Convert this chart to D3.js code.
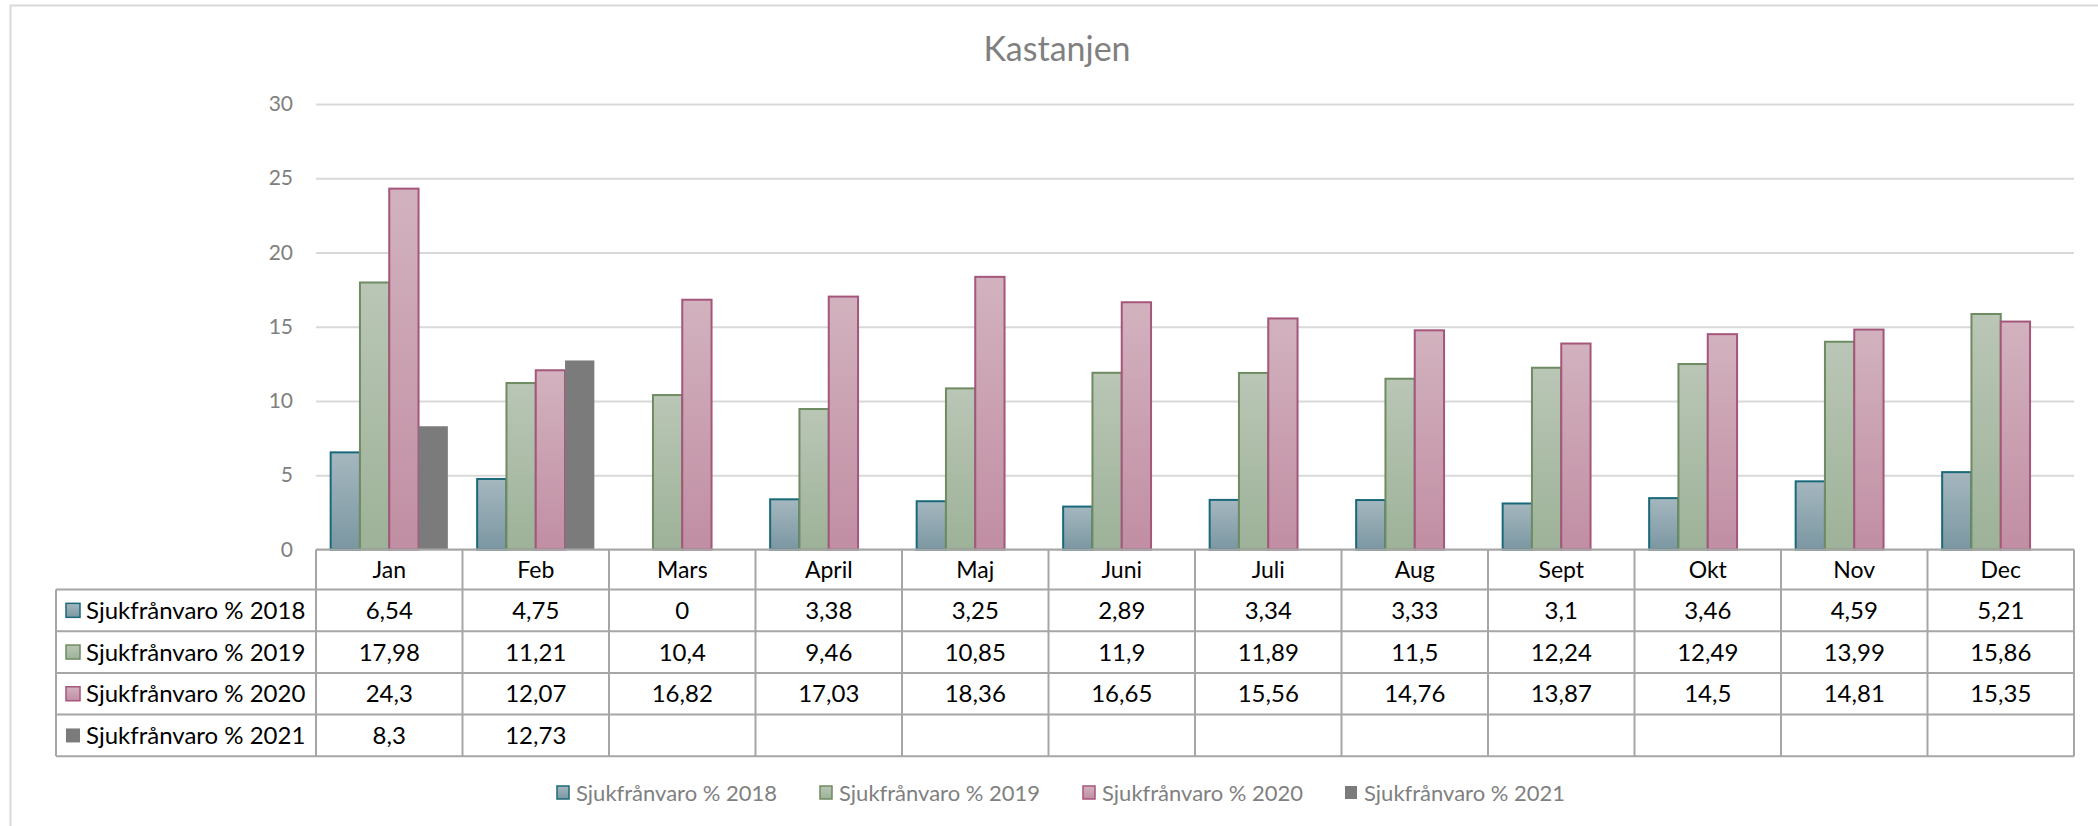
<!DOCTYPE html>
<html>
<head>
<meta charset="utf-8">
<script src="https://cdn.jsdelivr.net/npm/d3@7"></script>
<style>
  body { margin: 0; background: #fff; }
  svg { display: block; font-family: Lato, "Open Sans", sans-serif; }
</style>
</head>
<body>
<div id="chart"></div>
<script>
const months = ["Jan", "Feb", "Mars", "April", "Maj", "Juni", "Juli", "Aug", "Sept", "Okt", "Nov", "Dec"];
const seriesNames = ["Sjukfrånvaro % 2018", "Sjukfrånvaro % 2019", "Sjukfrånvaro % 2020", "Sjukfrånvaro % 2021"];
const values2018 = [6.54, 4.75, 0, 3.38, 3.25, 2.89, 3.34, 3.33, 3.1, 3.46, 4.59, 5.21];
const values2019 = [17.98, 11.21, 10.4, 9.46, 10.85, 11.9, 11.89, 11.5, 12.24, 12.49, 13.99, 15.86];
const values2020 = [24.3, 12.07, 16.82, 17.03, 18.36, 16.65, 15.56, 14.76, 13.87, 14.5, 14.81, 15.35];
const values2021 = [8.3, 12.73, null, null, null, null, null, null, null, null, null, null];
const yTicks = [0, 5, 10, 15, 20, 25, 30];
const title = "Kastanjen";

const allValues = [values2018, values2019, values2020, values2021];

// look of each series: gradient top/bottom + outline
const styles = [
    {top: "#a5b7bf", bottom: "#7b97a2", stroke: "#19697a", sw: 2},
    {top: "#bac6b6", bottom: "#9db298", stroke: "#6f8b62", sw: 2},
    {top: "#d2b2be", bottom: "#c18ea3", stroke: "#a5567b", sw: 2},
    {top: "#7b7b7b", bottom: "#7b7b7b", stroke: "none", sw: 0}
];

function renderChart () {
    const wSvg = 2098;
    const hSvg = 826;
    const left = 316;
    const right = 2074;
    const top = 104;
    const bottom = 549.5;
    const tableLeft = 56;
    const headerH = 40;
    const rowH = 41.7;

    const x = d3.scaleBand(months, [left, right]);
    const xs = d3.scaleBand(seriesNames, [0, x.bandwidth()]).paddingOuter(0.5);
    const y = d3.scaleLinear([0, 30], [bottom, top]);

    let svg = d3.select("#chart")
        .append("svg")
        .attr("width", wSvg)
        .attr("height", hSvg);

    let defs = svg.append("defs");
    styles.forEach((s, i) => {
        let g = defs.append("linearGradient")
            .attr("id", "grad" + i)
            .attr("x1", 0).attr("y1", 0).attr("x2", 0).attr("y2", 1);
        g.append("stop").attr("offset", "0%").attr("stop-color", s.top);
        g.append("stop").attr("offset", "100%").attr("stop-color", s.bottom);
    });

    // chart frame
    svg.append("rect")
        .attr("x", 10.5).attr("y", 5.5)
        .attr("width", wSvg).attr("height", hSvg)
        .attr("fill", "none")
        .attr("stroke", "#d9d9d9")
        .attr("stroke-width", 2);

    svg.append("text")
        .attr("x", 1057)
        .attr("y", 61)
        .attr("text-anchor", "middle")
        .attr("fill", "#808080")
        .style("font-size", "34px")
        .text(title);

    // gridlines + y labels
    let yAxis = d3.axisLeft(y)
        .tickValues(yTicks)
        .tickSize(-(right - left))
        .tickPadding(23);
    let gy = svg.append("g")
        .attr("transform", `translate(${left}, 0)`)
        .call(yAxis);
    gy.select(".domain").remove();
    gy.selectAll(".tick line")
        .attr("stroke", "#d9d9d9")
        .attr("stroke-width", 2);
    gy.selectAll(".tick text")
        .attr("fill", "#808080")
        .style("font-size", "21px")
        .style("font-family", "Lato, sans-serif");

    // bars
    let barData = [];
    allValues.forEach((arr, si) => {
        arr.forEach((v, mi) => {
            if (v !== null && v > 0) barData.push({month: months[mi], series: si, v: v});
        });
    });

    svg.append("g")
        .selectAll("rect")
        .data(barData)
        .enter()
        .append("rect")
        .attr("x", d => x(d.month) + xs(seriesNames[d.series]))
        .attr("y", d => y(d.v))
        .attr("width", xs.bandwidth())
        .attr("height", d => y(0) - y(d.v))
        .attr("fill", d => `url(#grad${d.series})`)
        .attr("stroke", d => styles[d.series].stroke)
        .attr("stroke-width", d => styles[d.series].sw);

    // data table
    let table = svg.append("g");
    const lineColor = "#a6a6a6";
    const tableBottom = bottom + headerH + rowH * seriesNames.length;

    // header row (month names)
    table.selectAll(".mhead")
        .data(months)
        .enter()
        .append("text")
        .attr("x", d => x(d) + x.bandwidth() / 2)
        .attr("y", bottom + headerH / 2)
        .attr("dy", "0.36em")
        .attr("text-anchor", "middle")
        .attr("fill", "#000")
        .style("font-size", "23px")
        .text(d => d);

    // horizontal lines
    table.append("line")
        .attr("x1", left).attr("x2", right)
        .attr("y1", bottom).attr("y2", bottom)
        .attr("stroke", lineColor).attr("stroke-width", 2);
    for (let r = 0; r <= seriesNames.length; r++) {
        let yy = bottom + headerH + r * rowH;
        table.append("line")
            .attr("x1", tableLeft).attr("x2", right)
            .attr("y1", yy).attr("y2", yy)
            .attr("stroke", lineColor).attr("stroke-width", 2);
    }
    // vertical lines
    table.append("line")
        .attr("x1", tableLeft).attr("x2", tableLeft)
        .attr("y1", bottom + headerH).attr("y2", tableBottom)
        .attr("stroke", lineColor).attr("stroke-width", 2);
    months.concat(["end"]).forEach((m, i) => {
        let xx = i < months.length ? x(m) : right;
        table.append("line")
            .attr("x1", xx).attr("x2", xx)
            .attr("y1", bottom).attr("y2", tableBottom)
            .attr("stroke", lineColor).attr("stroke-width", 2);
    });

    // row labels with keys
    seriesNames.forEach((name, si) => {
        let cy = bottom + headerH + si * rowH + rowH / 2;
        table.append("rect")
            .attr("x", 66).attr("y", cy - 7)
            .attr("width", 14).attr("height", 14)
            .attr("fill", `url(#grad${si})`)
            .attr("stroke", styles[si].stroke)
            .attr("stroke-width", styles[si].sw ? 1.5 : 0);
        table.append("text")
            .attr("x", 86)
            .attr("y", cy)
            .attr("dy", "0.36em")
            .attr("fill", "#000")
            .style("font-size", "24px")
            .text(name);

        table.selectAll(".v" + si)
            .data(allValues[si])
            .enter()
            .append("text")
            .attr("x", (d, i) => x(months[i]) + x.bandwidth() / 2)
            .attr("y", cy)
            .attr("dy", "0.36em")
            .attr("text-anchor", "middle")
            .attr("fill", "#000")
            .style("font-size", "24px")
            .text(d => d === null ? "" : String(d).replace(".", ","));
    });

    // legend
    let legend = svg.append("g");
    const legendX = [557, 820, 1083, 1345];
    seriesNames.forEach((name, si) => {
        legend.append("rect")
            .attr("x", legendX[si]).attr("y", 786)
            .attr("width", 12).attr("height", 13)
            .attr("fill", `url(#grad${si})`)
            .attr("stroke", styles[si].stroke)
            .attr("stroke-width", styles[si].sw ? 1.5 : 0);
        legend.append("text")
            .attr("x", legendX[si] + 19)
            .attr("y", 793)
            .attr("dy", "0.36em")
            .attr("fill", "#808080")
            .style("font-size", "22px")
            .text(name);
    });
}

renderChart();
</script>
</body>
</html>
